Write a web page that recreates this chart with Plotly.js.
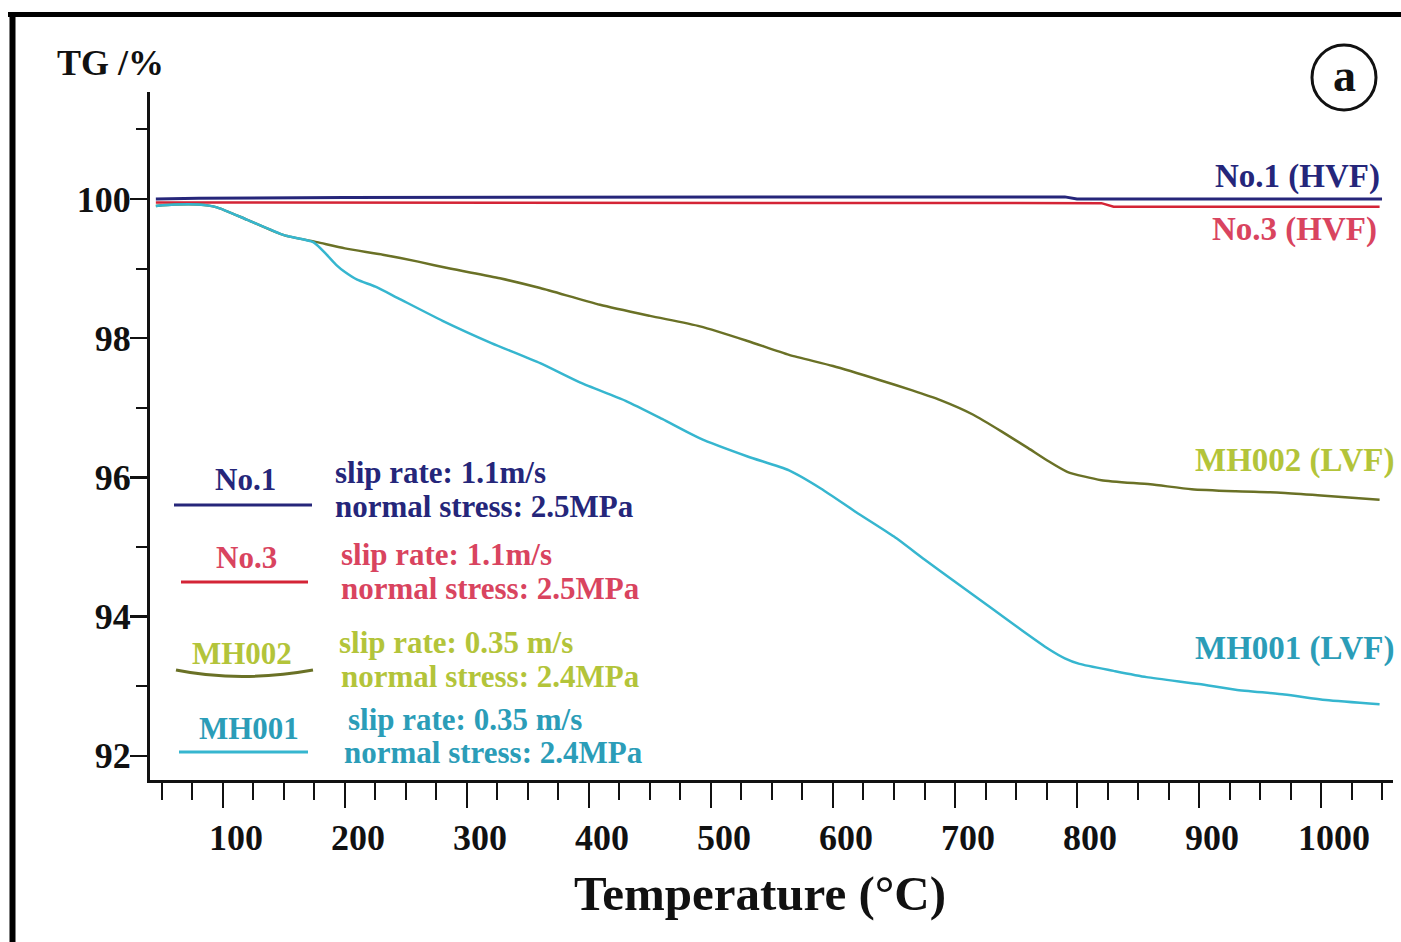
<!DOCTYPE html>
<html>
<head>
<meta charset="utf-8">
<script src="https://cdn.plot.ly/plotly-3.0.1.min.js"></script>
<style>html,body{margin:0;padding:0;background:#fff;}#chart{width:1401px;height:942px;}</style>
</head>
<body>
<div id="chart"></div>
<script>
// ---- Data ----
const no1_T  = [45, 80, 200, 400, 600, 790, 800, 1050];
const no1_TG = [100.0, 100.01, 100.02, 100.03, 100.03, 100.03, 100.0, 100.0];

const no3_T  = [45, 200, 500, 820, 830, 1048];
const no3_TG = [99.95, 99.95, 99.95, 99.94, 99.89, 99.89];

const mh002_T  = [45, 60, 80, 95, 120, 150, 177, 200, 231, 260, 286, 327, 360, 409, 450, 491, 530, 564, 600, 638, 665, 688, 715, 740, 760, 775, 792, 820, 860, 894, 930, 967, 1000, 1048];
const mh002_TG = [99.9, 99.92, 99.92, 99.88, 99.7, 99.48, 99.38, 99.29, 99.2, 99.1, 99.0, 98.86, 98.72, 98.48, 98.32, 98.17, 97.96, 97.76, 97.6, 97.4, 97.25, 97.11, 96.9, 96.64, 96.42, 96.25, 96.08, 95.96, 95.9, 95.83, 95.8, 95.78, 95.74, 95.68];

const mh001_T  = [45, 60, 80, 95, 120, 150, 174, 185, 193, 200, 210, 225, 243, 280, 320, 360, 393, 430, 460, 491, 530, 564, 590, 619, 650, 675, 700, 730, 755, 777, 790, 802, 830, 857, 900, 930, 970, 1004, 1048];
const mh001_TG = [99.9, 99.92, 99.92, 99.88, 99.7, 99.48, 99.38, 99.2, 99.05, 98.95, 98.84, 98.74, 98.58, 98.25, 97.93, 97.64, 97.36, 97.1, 96.84, 96.56, 96.3, 96.1, 95.84, 95.5, 95.15, 94.82, 94.5, 94.12, 93.8, 93.53, 93.4, 93.32, 93.22, 93.13, 93.03, 92.95, 92.88, 92.8, 92.74];

const curveNames = ["No.1 (HVF)", "No.3 (HVF)", "MH002 (LVF)", "MH001 (LVF)"];
const sampleNames = ["No.1", "No.3", "MH002", "MH001"];
const slipRates = ["slip rate: 1.1m/s", "slip rate: 1.1m/s", "slip rate: 0.35 m/s", "slip rate: 0.35 m/s"];
const stresses = ["normal stress: 2.5MPa", "normal stress: 2.5MPa", "normal stress: 2.4MPa", "normal stress: 2.4MPa"];
const xTickVals = [100, 200, 300, 400, 500, 600, 700, 800, 900, 1000];
const yTickVals = [92, 94, 96, 98, 100];

// ---- Styling ----
const FONT = '"Liberation Serif", "Times New Roman", serif';
const lineColors = ['#26267a', '#d42436', '#6a7126', '#36b6cf'];
const textColors = ['#25267a', '#d9445f', '#b3c43a', '#2b9db8'];

const W = 1401, H = 942, ML = 150, MR = 8, MT = 92, MB = 162;
const PW = W - ML - MR, PH = H - MT - MB;
const px = x => (x - ML) / PW;
const py = y => (H - MB - y) / PH;

const traces = [
  {x: no1_T, y: no1_TG, line: {color: lineColors[0], width: 3}},
  {x: no3_T, y: no3_TG, line: {color: lineColors[1], width: 2.5}},
  {x: mh002_T, y: mh002_TG, line: {color: lineColors[2], width: 2.5, shape: 'spline', smoothing: 0.6}},
  {x: mh001_T, y: mh001_TG, line: {color: lineColors[3], width: 2.5, shape: 'spline', smoothing: 0.6}}
].map((t, i) => Object.assign({type: 'scatter', mode: 'lines', name: curveNames[i], hoverinfo: 'skip'}, t));

function ann(text, x, y, size, color, xanchor, extra) {
  return Object.assign({
    text: text, x: px(x), y: py(y), xref: 'paper', yref: 'paper',
    xanchor: xanchor || 'center', yanchor: 'middle', showarrow: false, borderpad: 0,
    font: {family: FONT, size: size, color: color, weight: 'bold'}
  }, extra || {});
}

const LS = 31;
const annotations = [
  ann('TG /%', 110, 63, 36, '#111'),
  ann('a', 1344, 75, 46, '#111'),
  ann('Temperature (°C)', 760, 893, 49, '#111'),
  ann(curveNames[0], 1381, 176, 33, textColors[0], 'right'),
  ann(curveNames[1], 1378, 229, 33, textColors[1], 'right'),
  ann(curveNames[2], 1396, 460, 33, textColors[2], 'right'),
  ann(curveNames[3], 1396, 648, 33, textColors[3], 'right'),
  // legend block
  ann(sampleNames[0], 245, 479, LS, textColors[0]),
  ann(slipRates[0], 334, 472, LS, textColors[0], 'left'),
  ann(stresses[0], 334, 506, LS, textColors[0], 'left'),
  ann(sampleNames[1], 246, 557, LS, textColors[1]),
  ann(slipRates[1], 340, 554, LS, textColors[1], 'left'),
  ann(stresses[1], 340, 588, LS, textColors[1], 'left'),
  ann(sampleNames[2], 242, 653, LS, textColors[2]),
  ann(slipRates[2], 338, 642, LS, textColors[2], 'left'),
  ann(stresses[2], 340, 676, LS, textColors[2], 'left'),
  ann(sampleNames[3], 249, 728, LS, textColors[3]),
  ann(slipRates[3], 347, 719, LS, textColors[3], 'left'),
  ann(stresses[3], 343, 752, LS, textColors[3], 'left')
];

function seg(x0, y0, x1, y1, color, width) {
  return {type: 'line', xref: 'paper', yref: 'paper', x0: px(x0), y0: py(y0), x1: px(x1), y1: py(y1),
          line: {color: color, width: width}};
}

const shapes = [
  // outer frame (top and left)
  seg(8, 14.5, 1401, 14.5, '#000', 5),
  seg(12.5, 12, 12.5, 942, '#000', 6),
  // circled "a"
  {type: 'circle', xref: 'paper', yref: 'paper', x0: px(1312), x1: px(1376), y0: py(110), y1: py(45),
   line: {color: '#111', width: 3}},
  // legend sample lines
  seg(174, 505, 312, 505, lineColors[0], 3),
  seg(181, 582, 308, 582, lineColors[1], 3),
  {type: 'path', xref: 'paper', yref: 'paper',
   path: 'M ' + px(176) + ' ' + py(670) + ' Q ' + px(240) + ' ' + py(683) + ' ' + px(313) + ' ' + py(670),
   line: {color: lineColors[2], width: 3}},
  seg(179, 752, 308, 752, lineColors[3], 3)
];

const layout = {
  width: W, height: H,
  margin: {l: ML, r: MR, t: MT, b: MB, pad: 0},
  paper_bgcolor: '#ffffff', plot_bgcolor: '#ffffff',
  showlegend: false,
  font: {family: FONT, color: '#111'},
  xaxis: {
    range: [40.2, 1059], tickvals: xTickVals, ticktext: xTickVals.map(String),
    showgrid: false, zeroline: false, showline: true, linecolor: '#111', linewidth: 3,
    ticks: 'outside', ticklen: 25, tickwidth: 2.5, tickcolor: '#111',
    ticklabelshift: 13, ticklabelstandoff: -1,
    minor: {dtick: 25, tick0: 0, ticks: 'outside', ticklen: 17, tickwidth: 2, tickcolor: '#111', showgrid: false},
    tickfont: {family: FONT, size: 36, color: '#111', weight: 'bold'}
  },
  yaxis: {
    range: [91.652, 101.537], tickvals: yTickVals, ticktext: yTickVals.map(String),
    showgrid: false, zeroline: false, showline: true, linecolor: '#111', linewidth: 3,
    ticks: 'outside', ticklen: 17, tickwidth: 2.5, tickcolor: '#111',
    ticklabelstandoff: -8,
    minor: {dtick: 1, tick0: 0, ticks: 'outside', ticklen: 11, tickwidth: 2, tickcolor: '#111', showgrid: false},
    tickfont: {family: FONT, size: 36, color: '#111', weight: 'bold'}
  },
  annotations: annotations,
  shapes: shapes
};

Plotly.newPlot('chart', traces, layout, {staticPlot: true, displayModeBar: false});
</script>
</body>
</html>
